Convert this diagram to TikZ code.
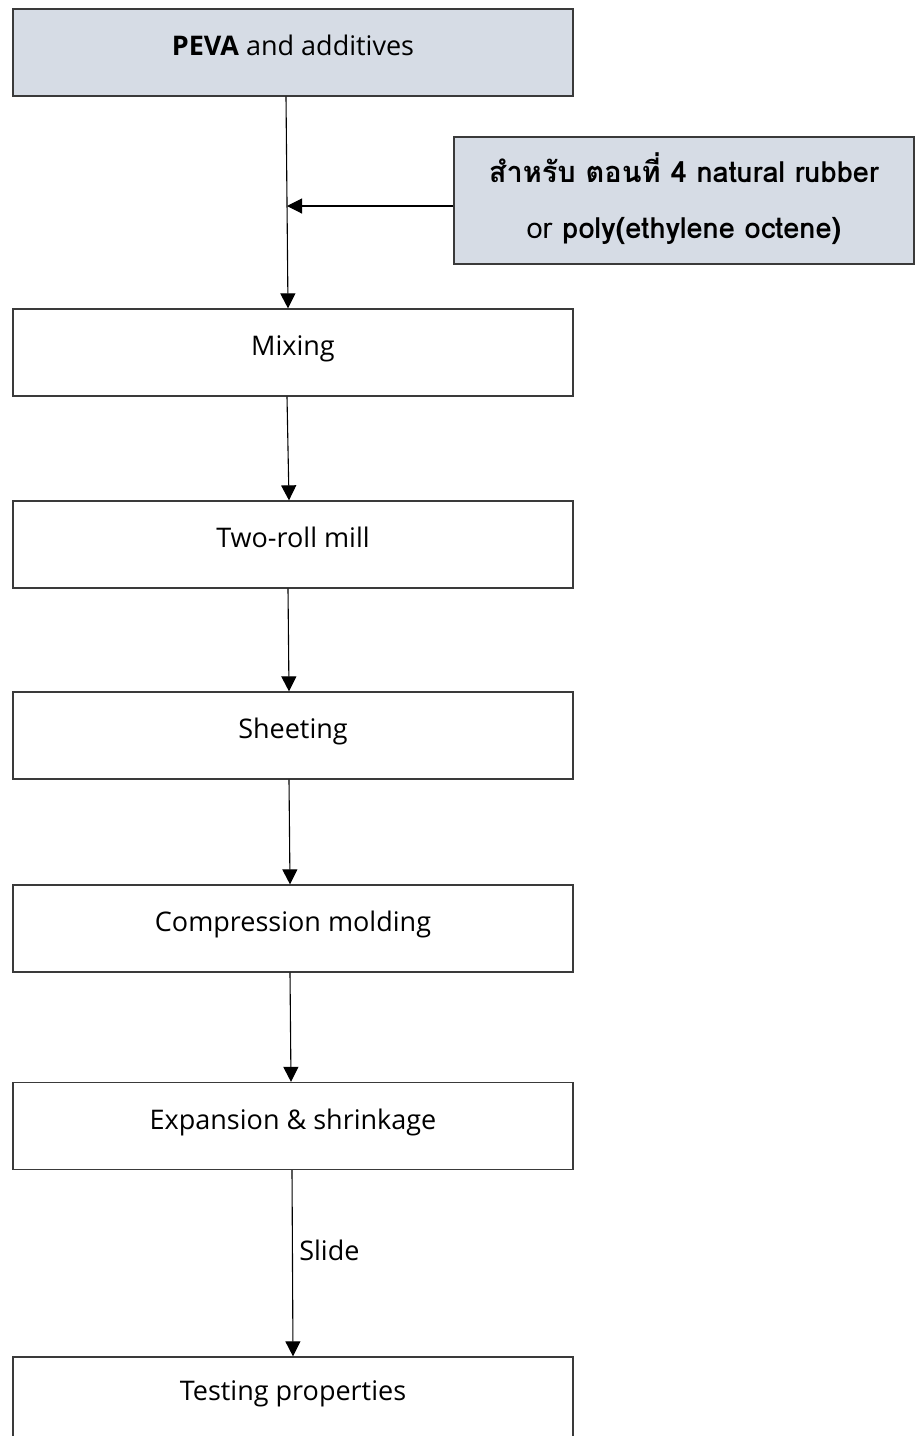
\documentclass[tikz,border=0pt]{standalone}
\usepackage{fontspec}
\setmainfont{Open Sans}
\newfontfamily\thaifont[Script=Thai]{Loma}
\usetikzlibrary{arrows.meta}
\definecolor{boxfill}{HTML}{D6DCE5}
\definecolor{boxline}{HTML}{3A3A3A}
\begin{document}
\begin{tikzpicture}[x=1pt,y=-1pt,
  stepbox/.style={draw=boxline,line width=1.3pt,minimum width=560pt,minimum height=87pt,inner sep=0pt,font=\fontsize{27}{32}\selectfont,text depth=14pt},
  graybox/.style={stepbox,fill=boxfill},
  flow/.style={line width=1.1pt,-{Triangle[width=15pt,length=15pt]}}]
\useasboundingbox (0,0) rectangle (922,1436);
\clip (0,0) rectangle (922,1436);
\node[graybox] (peva) at (293,52.5) {\textbf{PEVA} and additives};
\node[graybox,minimum width=460pt,minimum height=127pt,align=center,font=\thaifont\fontsize{29}{56}\selectfont,text depth=10pt] (nr) at (684,200.5)
  {\textbf{สำหรับ ตอนที่ 4 natural rubber}\\or \textbf{poly(ethylene octene)}};
\node[stepbox] (mix) at (293,352.5) {Mixing};
\node[stepbox] (roll) at (293,544.5) {Two-roll mill};
\node[stepbox] (sheet) at (293,735.5) {Sheeting};
\node[stepbox] (comp) at (293,928.5) {Compression molding};
\node[stepbox] (exp) at (293,1126) {Expansion \& shrinkage};
\node[stepbox,text depth=20pt] (test) at (293,1400.5) {Testing properties};
\coordinate (join) at (287,206);
\draw[flow] ([xshift=-7pt]peva.south) -- ([xshift=-5pt]mix.north);
\draw[flow] (nr.west |- join) -- (join);
\draw[flow] ([xshift=-6pt]mix.south) -- ([xshift=-4pt]roll.north);
\draw[flow] ([xshift=-5pt]roll.south) -- ([xshift=-4pt]sheet.north);
\draw[flow] ([xshift=-4pt]sheet.south) -- ([xshift=-3pt]comp.north);
\draw[flow] ([xshift=-3pt]comp.south) -- ([xshift=-2pt]exp.north);
\draw[flow] ([xshift=-1pt]exp.south) -- node[pos=0.43,right,font=\fontsize{27}{32}\selectfont,xshift=3pt] (slide) {Slide} ([xshift=0pt]test.north);
\end{tikzpicture}
\end{document}
